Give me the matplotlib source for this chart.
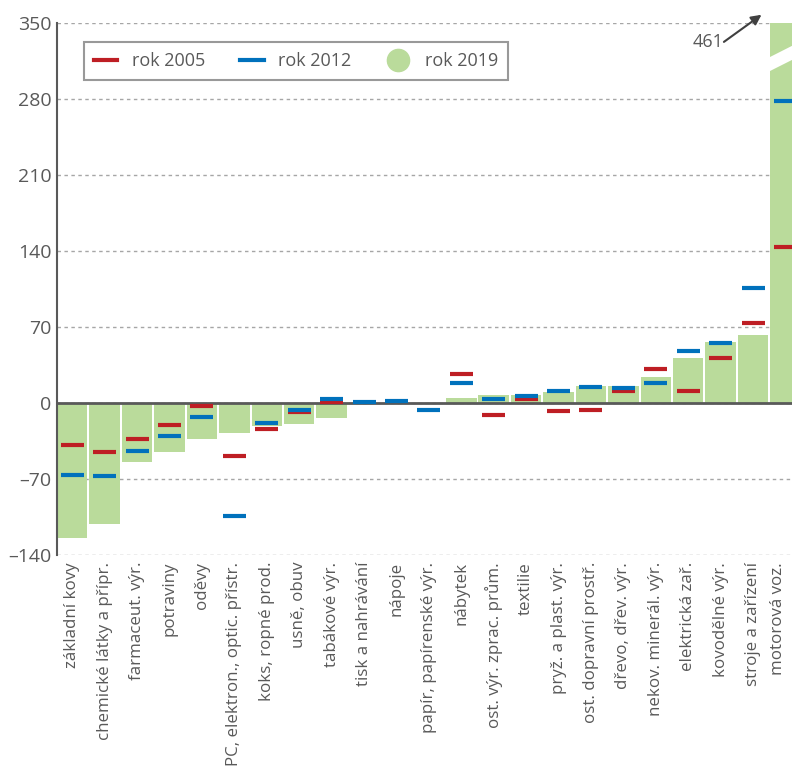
import numpy as np
import matplotlib
matplotlib.use("Agg")
import matplotlib.pyplot as plt
import matplotlib.transforms as mtransforms
from matplotlib.lines import Line2D
from matplotlib.patches import Polygon

plt.rcParams['font.family'] = ['Open Sans', 'DejaVu Sans']

categories = ["základní kovy", "chemické látky a přípr.", "farmaceut. výr.", "potraviny",
              "oděvy", "PC, elektron., optic. přístr.", "koks, ropné prod.", "usně, obuv",
              "tabákové výr.", "tisk a nahrávání", "nápoje", "papír, papírenské výr.",
              "nábytek", "ost. výr. zprac. prům.", "textilie", "pryž. a plast. výr.",
              "ost. dopravní prostř.", "dřevo, dřev. výr.", "nekov. minerál. výr.",
              "elektrická zař.", "kovodělné výr.", "stroje a zařízení", "motorová voz."]
nan = np.nan
rok2019 = [-124, -111, -54, -45.5, -33.5, -28, -21.5, -19.5, -14, nan, nan, nan,
           5, 7.5, 7.5, 10.5, 16, 16, 23.5, 41, 56.5, 63, 461]
rok2005 = [-39, -45.5, -33, -20, -3, -48.5, -23.5, -8.5, 1.2, nan, nan, nan,
           27, -11, 3.3, -7, -6, 11.5, 31, 11.5, 41, 74, 144]
rok2012 = [-66, -67, -44, -30, -12.5, -104, -18, -6, 4, 0.5, 1.5, -6,
           18, 4, 6, 11.5, 15, 14, 18, 47.5, 55.5, 105.5, 278]
yticks = [-140, -70, 0, 70, 140, 210, 280, 350]

green = '#BADB9B'
red = '#BE1E24'
blue = '#0071BC'
grey = '#595959'

fig = plt.figure(figsize=(7.92, 7.70), dpi=100)
ax = fig.add_axes([57 / 792, 1 - 555 / 770, 1 - 57 / 792, 532 / 770])

x = np.arange(len(categories))
ax.bar(x, rok2019, width=0.94, color=green, zorder=2)

# break mark on the motorová voz. bar (value 461 is off scale)
brk = Polygon([(21.45, 304.7), (21.45, 317.6), (22.6, 335.0), (22.6, 322.0)],
              closed=True, facecolor='white', edgecolor='none', zorder=3)
ax.add_patch(brk)

ax.axhline(0, color=grey, lw=2, zorder=4)
ax.hlines(rok2005, x - 0.355, x + 0.355, color=red, lw=3, zorder=5)
ax.hlines(rok2012, x - 0.355, x + 0.355, color=blue, lw=3, zorder=6)

ax.set_xlim(-0.47, 22.2)
ax.set_ylim(-140, 350)
ax.set_yticks(yticks)
ax.set_yticklabels([str(t).replace('-', '\u2013') for t in yticks])
ax.set_xticks(x)
ax.set_xticklabels(categories, rotation=90, va='top', ha='center')
ax.tick_params(axis='both', length=0, colors=grey)
ax.tick_params(axis='x', labelsize=12.2, pad=5)
ax.tick_params(axis='y', labelsize=14, pad=4)
# last label sits a bit left so it stays inside the picture
last = ax.get_xticklabels()[-1]
last.set_transform(last.get_transform() +
                   mtransforms.ScaledTranslation(-8 / 100, 0, fig.dpi_scale_trans))
ax.grid(axis='y', color='#A6A6A6', linestyle=(0, (2.5, 2.5)), lw=1, zorder=0)
ax.set_axisbelow(True)
for s in ['top', 'right', 'bottom']:
    ax.spines[s].set_visible(False)
ax.spines['left'].set_color(grey)
ax.spines['left'].set_linewidth(1.5)

ax.text(19.62, 332.4, '461', fontsize=13, color=grey, ha='center', va='center')
ax.annotate('', xy=(21.26, 357.6), xytext=(20.1, 332.6), annotation_clip=False,
            arrowprops=dict(arrowstyle='-|>,head_length=0.6,head_width=0.3',
                            color='#404040', lw=1.5, shrinkA=0, shrinkB=0))

handles = [Line2D([], [], color=red, lw=3),
           Line2D([], [], color=blue, lw=3),
           Line2D([], [], marker='o', linestyle='none', markersize=16,
                  markerfacecolor=green, markeredgecolor=green)]
leg = fig.legend(handles, ['rok 2005', 'rok 2012', 'rok 2019'], ncol=3,
                 loc='upper left', bbox_to_anchor=(84 / 792, 1 - 42 / 770),
                 fontsize=13, frameon=True, fancybox=False, borderaxespad=0,
                 handlelength=1.3, handletextpad=0.8, columnspacing=1.95,
                 borderpad=0.55, labelcolor=grey)
leg.get_frame().set_edgecolor('#808080')
leg.get_frame().set_linewidth(1.5)

fig.savefig('out.png', dpi=100)
